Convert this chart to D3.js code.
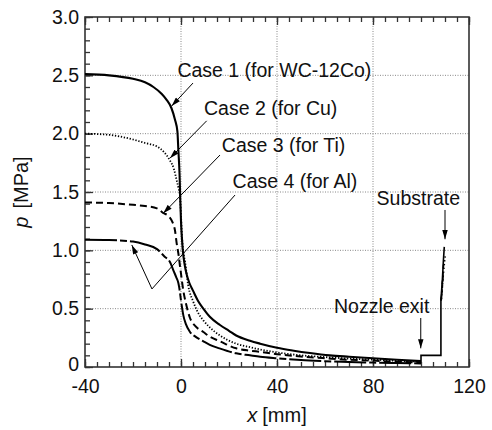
<!DOCTYPE html>
<html>
<head>
<meta charset="utf-8">
<script src="https://cdn.jsdelivr.net/npm/d3@7"></script>
<style>
  html, body { margin: 0; padding: 0; background: #fff; }
  svg { display: block; }
  text { font-family: "Liberation Sans", Arial, Helvetica, sans-serif; fill: #111; }
</style>
</head>
<body>
<svg id="chart" width="492" height="430"></svg>
<script>
// ---------------- data ----------------
const xDomain = [-40, 120];
const pDomain = [0, 3];
const xTickLabels = [-40, 0, 40, 80, 120];
const pTickLabels = [0, 0.5, 1.0, 1.5, 2.0, 2.5, 3.0];

// Case 1 (for WC-12Co) - solid
const case1X = [-40, -30, -20, -15, -11.5, -8, -6, -4, -2.5, -1.5, -1.1, -0.6, -0.3, 0, 0.4, 0.8, 1.5, 2.4, 3.5, 5.1, 7, 9.3, 12, 16.25, 20, 23, 28.75, 33, 40, 47, 53.75, 62, 70, 80, 90, 100];
const case1P = [2.51, 2.50, 2.47, 2.44, 2.40, 2.34, 2.29, 2.22, 2.12, 2.02, 1.86, 1.65, 1.43, 1.25, 1.10, 0.99, 0.88, 0.79, 0.72, 0.65, 0.57, 0.50, 0.43, 0.36, 0.31, 0.27, 0.225, 0.20, 0.165, 0.14, 0.12, 0.10, 0.088, 0.075, 0.062, 0.05];
// Case 2 (for Cu) - dotted
const case2X = [-40, -30, -20, -15, -10, -7, -4.6, -3, -1.8, -1, -0.4, 0, 0.4, 0.9, 1.7, 3, 5.1, 7, 9.3, 12, 16.25, 23, 28.75, 33, 40, 50, 60, 70, 80, 90, 100];
const case2P = [2.00, 1.99, 1.95, 1.92, 1.89, 1.84, 1.77, 1.70, 1.60, 1.53, 1.46, 1.30, 1.12, 1.00, 0.90, 0.70, 0.56, 0.47, 0.40, 0.34, 0.27, 0.20, 0.17, 0.15, 0.125, 0.10, 0.085, 0.072, 0.063, 0.054, 0.045];
// Case 3 (for Ti) - dashed
const case3X = [-40, -30, -20, -15, -10, -7.4, -5, -3.5, -2.5, -1.8, -1, -0.4, 0, 0.5, 1, 2, 3.75, 6, 9.3, 12, 16.25, 23, 28.75, 33, 40, 50, 60, 70, 80, 90, 100];
const case3P = [1.41, 1.405, 1.39, 1.38, 1.36, 1.32, 1.29, 1.24, 1.17, 1.06, 0.96, 0.86, 0.80, 0.72, 0.65, 0.55, 0.42, 0.35, 0.30, 0.26, 0.22, 0.16, 0.14, 0.13, 0.11, 0.09, 0.075, 0.062, 0.055, 0.045, 0.038];
// Case 4 (for Al) - long dash
const case4X = [-40, -30, -20, -15, -10, -7, -4.6, -3, -2, -1.1, -0.5, 0, 0.5, 1, 2, 3.75, 6, 9.3, 12, 16, 23, 28.75, 33, 40, 50, 60, 70, 80, 90, 100];
const case4P = [1.09, 1.088, 1.075, 1.05, 1.01, 0.95, 0.90, 0.82, 0.77, 0.72, 0.65, 0.57, 0.50, 0.44, 0.37, 0.30, 0.26, 0.22, 0.19, 0.16, 0.117, 0.10, 0.088, 0.075, 0.06, 0.05, 0.042, 0.038, 0.034, 0.03];

// nozzle exit step and substrate stagnation
const exitX = [100, 100, 108.3, 108.3, 108.6, 108.9, 109.3, 109.7];
const exitP = [0.04, 0.10, 0.10, 0.57, 0.66, 0.745, 0.90, 1.03];
const subst2X = [108.5, 109.0, 109.6, 110.2];
const subst2P = [0.58, 0.72, 0.86, 0.97];
const subst3X = [108.4, 108.9, 109.4];
const subst3P = [0.57, 0.72, 0.88];
const subst4X = [108.4, 108.8, 109.2];
const subst4P = [0.57, 0.66, 0.78];

// annotations (data coordinates)
const labelTexts = ["Case 1 (for WC-12Co)", "Case 2 (for Cu)", "Case 3 (for Ti)", "Case 4 (for Al)", "Nozzle exit", "Substrate"];
const labelX = [-1.5, 9.6, 17, 21.5, 63.75, 81.5];
const labelP = [2.485, 2.16, 1.845, 1.534, 0.465, 1.389];

// ---------------- chart ----------------
const svg = d3.select("#chart");
const x = d3.scaleLinear().domain(xDomain).range([85, 469]);
const y = d3.scaleLinear().domain(pDomain).range([367, 17]);
const axisColor = "#333";

// grid
const g = svg.append("g");
g.selectAll(".vg").data(xTickLabels.slice(1, -1)).join("line")
  .attr("x1", d => x(d)).attr("x2", d => x(d)).attr("y1", y(0)).attr("y2", y(3))
  .attr("stroke", "#888").attr("stroke-width", 1).attr("stroke-dasharray", "1,1.5");
g.selectAll(".hg").data(pTickLabels.slice(1, -1)).join("line")
  .attr("x1", x(-40)).attr("x2", x(120)).attr("y1", d => y(d)).attr("y2", d => y(d))
  .attr("stroke", "#888").attr("stroke-width", 1).attr("stroke-dasharray", "1,1.5");

// axes
function styleAxis(sel) {
  sel.select(".domain").remove();
  sel.selectAll(".tick line").attr("stroke", axisColor).attr("stroke-width", 1.3);
  sel.selectAll(".tick text").attr("font-size", 19.5).attr("fill", "#111")
     .attr("font-family", "Liberation Sans, Arial, sans-serif");
}
const minorX = d3.range(-40, 121, 5);
const minorP = d3.range(0, 31, 1).map(v => v / 10);

svg.append("g").attr("transform", `translate(0,${y(0)})`)
  .call(d3.axisBottom(x).tickValues(minorX).tickSize(-5).tickFormat(""))
  .call(styleAxis);
svg.append("g").attr("transform", `translate(0,${y(0)})`)
  .call(d3.axisBottom(x).tickValues(xTickLabels).tickSize(-8).tickPadding(12).tickFormat(d => String(d)))
  .call(styleAxis);
svg.append("g").attr("transform", `translate(0,${y(3)})`)
  .call(d3.axisTop(x).tickValues(minorX).tickSize(-5).tickFormat(""))
  .call(styleAxis);
svg.append("g").attr("transform", `translate(0,${y(3)})`)
  .call(d3.axisTop(x).tickValues(xTickLabels).tickSize(-8).tickFormat(""))
  .call(styleAxis);
svg.append("g").attr("transform", `translate(${x(-40)},0)`)
  .call(d3.axisLeft(y).tickValues(minorP).tickSize(-5).tickFormat(""))
  .call(styleAxis);
svg.append("g").attr("transform", `translate(${x(-40)},0)`)
  .call(d3.axisLeft(y).tickValues(pTickLabels).tickSize(-8).tickPadding(6)
        .tickFormat(d => d === 0 ? "0" : d3.format(".1f")(d)))
  .call(styleAxis)
  .call(sel => sel.selectAll(".tick text").filter(d => d === 0).attr("dy", "0.2em"));

// frame
svg.append("rect").attr("x", x(-40)).attr("y", y(3))
  .attr("width", x(120) - x(-40)).attr("height", y(0) - y(3))
  .attr("fill", "none").attr("stroke", axisColor).attr("stroke-width", 1.6);

// curves
const smooth = d3.line().x(d => x(d[0])).y(d => y(d[1])).curve(d3.curveMonotoneX);
const straight = d3.line().x(d => x(d[0])).y(d => y(d[1]));
const zip = (a, b) => a.map((v, i) => [v, b[i]]);

const series = [
  { X: case1X, P: case1P, dash: null, w: 2.1 },
  { X: case2X, P: case2P, dash: "1.3,1.7", w: 1.8 },
  { X: case3X, P: case3P, dash: "7,4", w: 2.0 },
  { X: case4X, P: case4P, dash: "32,3,7,3", w: 2.0 }
];
series.forEach(s => {
  svg.append("path").attr("d", smooth(zip(s.X, s.P)))
    .attr("fill", "none").attr("stroke", "#000").attr("stroke-width", s.w)
    .attr("stroke-dasharray", s.dash);
});
svg.append("path").attr("d", straight(zip(exitX, exitP)))
  .attr("fill", "none").attr("stroke", "#000").attr("stroke-width", 1.6);
[[subst2X, subst2P, "1.3,2.5"], [subst3X, subst3P, "4,4"], [subst4X, subst4P, "10,3,3,3"]].forEach(([sx, sp, dash]) => {
  svg.append("path").attr("d", straight(zip(sx, sp)))
    .attr("fill", "none").attr("stroke", "#000").attr("stroke-width", 1.6)
    .attr("stroke-dasharray", dash);
});

// arrowhead marker
const defs = svg.append("defs");
defs.append("marker").attr("id", "arr").attr("viewBox", "0 0 10 6")
  .attr("refX", 10).attr("refY", 3).attr("markerWidth", 10).attr("markerHeight", 5.5)
  .attr("markerUnits", "userSpaceOnUse").attr("orient", "auto")
  .append("path").attr("d", "M0,0 L10,3 L0,6 Z").attr("fill", "#000");

// annotation lines (data coordinates)
const arrowLines = [
  [[5, 2.434], [-3.9, 2.237]],
  [[10.7, 2.11], [-4.6, 1.79]],
  [[16.25, 1.817], [-7.4, 1.317]],
  [[-12.1, 0.669], [-20.5, 1.046]],
  [[99.9, 0.42], [99.9, 0.16]],
  [[110, 1.346], [110, 1.095]]
];
arrowLines.forEach(l => {
  svg.append("line")
    .attr("x1", x(l[0][0])).attr("y1", y(l[0][1]))
    .attr("x2", x(l[1][0])).attr("y2", y(l[1][1]))
    .attr("stroke", "#000").attr("stroke-width", 1)
    .attr("marker-end", "url(#arr)");
});
svg.append("line")
  .attr("x1", x(22.5)).attr("y1", y(1.474))
  .attr("x2", x(-12.1)).attr("y2", y(0.669))
  .attr("stroke", "#000").attr("stroke-width", 1);

// labels
labelTexts.forEach((t, i) => {
  svg.append("text").attr("x", x(labelX[i])).attr("y", y(labelP[i]))
    .attr("font-size", 19.5).text(t);
});

// axis titles
const xt = svg.append("text").attr("x", (x(-40) + x(120)) / 2).attr("y", 422)
  .attr("text-anchor", "middle").attr("font-size", 20);
xt.append("tspan").attr("font-style", "italic").text("x");
xt.append("tspan").attr("dx", 5).text("[mm]");

const yt = svg.append("text")
  .attr("transform", `translate(28,${(y(0) + y(3)) / 2}) rotate(-90)`)
  .attr("text-anchor", "middle").attr("font-size", 20);
yt.append("tspan").attr("font-style", "italic").text("p");
yt.append("tspan").attr("dx", 8).text("[MPa]");
</script>
</body>
</html>
